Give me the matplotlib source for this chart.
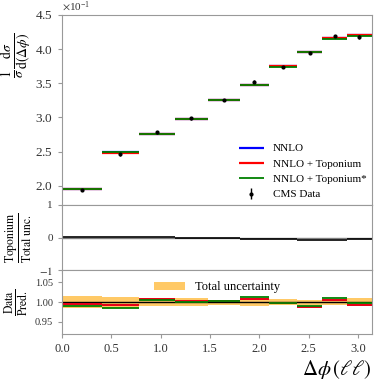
import numpy as np
import matplotlib
matplotlib.use("Agg")
import matplotlib.pyplot as plt
from matplotlib.ticker import ScalarFormatter

plt.rcParams['font.family'] = ['Liberation Serif', 'DejaVu Serif']
plt.rcParams['mathtext.fontset'] = 'stix'

# bin edges in delta phi
edges = [0.0, 0.4, 0.78, 1.14, 1.48, 1.8, 2.1, 2.38, 2.64, 2.89, 3.1416]

# normalised cross sections
nnlo = [0.195, 0.2488, 0.2762, 0.2975, 0.3253, 0.3477, 0.3745, 0.396, 0.4155, 0.4205]
nnlo_topo = [0.1948, 0.2486, 0.276, 0.2975, 0.3253, 0.3477, 0.3745, 0.396, 0.4158, 0.421]
nnlo_topo_star = [0.1952, 0.2492, 0.2765, 0.2978, 0.3254, 0.3479, 0.3742, 0.3958, 0.4152, 0.4192]
cms_data = [0.194, 0.246, 0.2782, 0.2985, 0.326, 0.352, 0.374, 0.3935, 0.4195, 0.418]

# toponium shift / total uncertainty
topo_over_unc = [0.03, 0.03, 0.01, -0.01, -0.02, -0.03, -0.05, -0.07, -0.07, -0.03]

# data / prediction ratios
ratio_nnlo = [0.996, 0.993, 1.008, 1.004, 1.003, 1.008, 0.997, 0.987, 1.006, 0.992]
ratio_topo = [0.996, 0.993, 1.008, 1.004, 1.003, 1.008, 0.997, 0.987, 1.006, 0.992]
ratio_topo_star = [0.991, 0.986, 1.005, 1.001, 1.003, 1.012, 0.999, 0.991, 1.01, 0.997]
total_unc = [0.016, 0.014, 0.011, 0.01, 0.006, 0.01, 0.007, 0.006, 0.006, 0.011]

edges = np.array(edges)
centers = 0.5 * (edges[1:] + edges[:-1])
unc = np.array(total_unc)

def step(vals):
    return np.append(vals, vals[-1])

def bins(ax, vals, **kw):
    # flat segment per bin, no vertical joins
    return ax.hlines(vals, edges[:-1], edges[1:], **kw)

fig = plt.figure(figsize=(3.81, 3.81), dpi=100)
ax1 = fig.add_axes([0.163, 0.462, 0.813, 0.499])
ax2 = fig.add_axes([0.163, 0.291, 0.813, 0.171], sharex=ax1)
ax3 = fig.add_axes([0.163, 0.123, 0.813, 0.168], sharex=ax1)

spine_col = '#999999'
for ax in (ax1, ax2, ax3):
    for s in ax.spines.values():
        s.set_color(spine_col)
    ax.tick_params(colors=spine_col, labelcolor='#333333', labelsize=8, length=3)
ax1.tick_params(axis='y', labelsize=9.5)
ax3.tick_params(axis='y', labelsize=7.5)
ax3.tick_params(axis='x', labelsize=9)

# top panel
bins(ax1, nnlo, color='blue', lw=1.6, label='NNLO')
bins(ax1, nnlo_topo, color='red', lw=1.6, label='NNLO + Toponium')
bins(ax1, nnlo_topo_star, color='green', lw=1.3, label='NNLO + Toponium*')
ax1.errorbar(centers, cms_data, yerr=np.array(cms_data) * unc * 0.6, fmt='o', color='black',
             ms=2, elinewidth=1, capsize=0, label='CMS Data')
ax1.set_ylim(0.172, 0.45)
ax1.set_xlim(0, np.pi)
fmt = ScalarFormatter(useMathText=True)
fmt.set_powerlimits((-1, -1))
ax1.yaxis.set_major_formatter(fmt)
ax1.yaxis.get_offset_text().set_fontsize(8)
ax1.set_yticks([0.2, 0.25, 0.3, 0.35, 0.4, 0.45])
ax1.tick_params(labelbottom=False)
ax1.set_ylabel(r'$\frac{1}{\sigma}\frac{\mathrm{d}\sigma}{\mathrm{d}(\Delta\phi)}$', fontsize=14)
ax1.yaxis.set_label_coords(-0.09, 0.79)
ax1.legend(loc='lower right', frameon=False, fontsize=8, handlelength=2.2,
           borderaxespad=0.1)

# middle panel
ax2.axhline(0, color='gray', lw=1)
bins(ax2, topo_over_unc, color='black', lw=1.2)
ax2.set_ylim(-1, 1)
ax2.set_yticks([-1, 0, 1])
ax2.set_yticklabels(['$-1$', '0', '1'])
ax2.tick_params(labelbottom=False)
ax2.set_ylabel(r'$\frac{\mathrm{Toponium}}{\mathrm{Total\ unc.}}$', fontsize=12)
ax2.yaxis.set_label_coords(-0.09, 0.5)

# bottom panel
ax3.fill_between(edges, step(1 - unc), step(1 + unc), step='post', color='orange',
                 alpha=0.6, lw=0, label='Total uncertainty')
ax3.axhline(1, color='black', lw=1)
bins(ax3, ratio_nnlo, color='blue', lw=1.3)
bins(ax3, ratio_topo, color='red', lw=1.3)
bins(ax3, ratio_topo_star, color='green', lw=1.3)
ax3.set_ylim(0.919, 1.081)
ax3.set_yticks([0.95, 1.0, 1.05])
ax3.set_yticklabels(['0.95', '1.00', '1.05'])
ax3.set_xticks([0, 0.5, 1, 1.5, 2, 2.5, 3])
ax3.set_ylabel(r'$\frac{\mathrm{Data}}{\mathrm{Pred.}}$', fontsize=12)
ax3.yaxis.set_label_coords(-0.105, 0.5)
ax3.legend(loc='upper center', frameon=False, fontsize=9, handlelength=2.5)
ax3.set_xlabel(r'$\Delta\phi\,(\ell\ell)$', fontsize=15)
ax3.xaxis.set_label_coords(1.0, -0.38)
ax3.xaxis.label.set_horizontalalignment('right')

fig.savefig('out.png', dpi=100)
